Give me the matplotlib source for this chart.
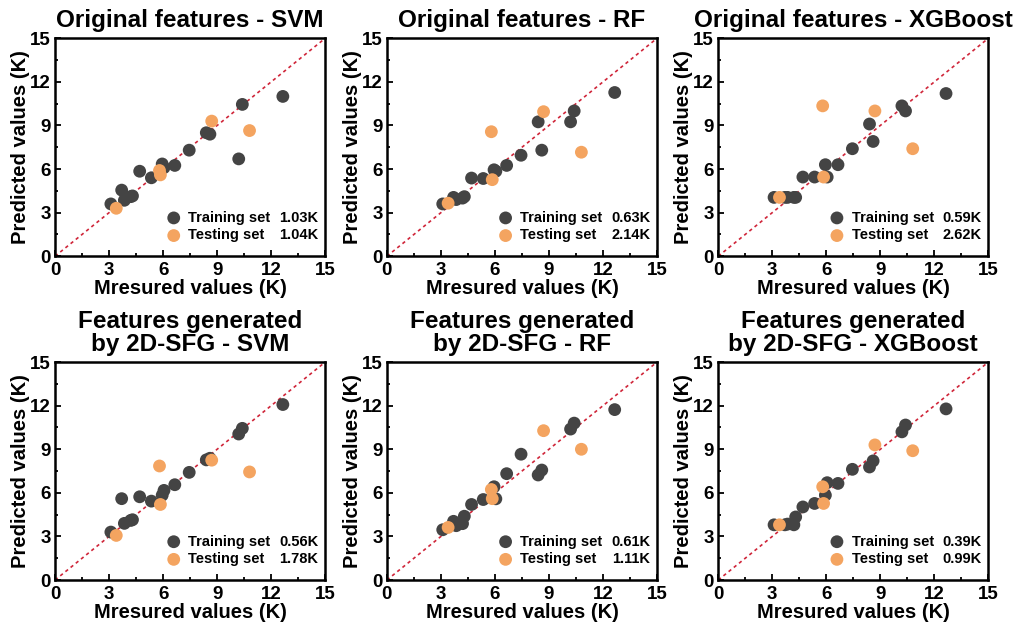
import matplotlib
matplotlib.use('Agg')
import matplotlib.pyplot as plt
from matplotlib.ticker import MultipleLocator

plt.rcParams['font.family'] = ['Liberation Sans', 'DejaVu Sans']
plt.rcParams['font.weight'] = 'bold'

# measured values (shared by all panels)
train_x = [3.1, 3.7, 3.85, 4.2, 4.3, 4.7, 5.35, 5.95, 6.05, 6.65, 7.45, 8.4, 8.6, 10.2, 10.4, 12.65]
test_x = [3.4, 5.8, 5.85, 8.7, 10.8]

# predicted values per panel
svm_orig_train = [3.6, 4.55, 3.85, 4.1, 4.15, 5.85, 5.4, 6.35, 6.1, 6.25, 7.3, 8.5, 8.4, 6.7, 10.45, 11.0]
svm_orig_test = [3.3, 5.9, 5.6, 9.3, 8.65]
rf_orig_train = [3.6, 4.05, 3.9, 4.0, 4.1, 5.38, 5.35, 5.95, 5.85, 6.25, 6.95, 9.25, 7.3, 9.25, 10.0, 11.27]
rf_orig_test = [3.65, 8.57, 5.27, 9.95, 7.16]
xgb_orig_train = [4.05, 4.05, 4.05, 4.05, 4.05, 5.45, 5.45, 6.3, 5.45, 6.3, 7.4, 9.1, 7.9, 10.35, 10.0, 11.2]
xgb_orig_test = [4.05, 10.35, 5.45, 10.0, 7.4]
svm_sfg_train = [3.3, 5.6, 3.9, 4.1, 4.15, 5.73, 5.43, 5.84, 6.17, 6.56, 7.41, 8.27, 8.38, 10.05, 10.44, 12.08]
svm_sfg_test = [3.07, 7.85, 5.2, 8.25, 7.44]
rf_sfg_train = [3.46, 4.04, 3.74, 3.88, 4.39, 5.2, 5.54, 6.42, 5.59, 7.32, 8.66, 7.23, 7.57, 10.39, 10.8, 11.73]
rf_sfg_test = [3.62, 6.23, 5.6, 10.28, 9.0]
xgb_sfg_train = [3.8, 3.8, 3.85, 3.8, 4.34, 5.03, 5.27, 5.84, 6.7, 6.65, 7.62, 7.78, 8.2, 10.2, 10.67, 11.78]
xgb_sfg_test = [3.8, 6.42, 5.27, 9.3, 8.9]

titles = ['Original features - SVM', 'Original features - RF', 'Original features - XGBoost',
          'Features generated\nby 2D-SFG - SVM', 'Features generated\nby 2D-SFG - RF',
          'Features generated\nby 2D-SFG - XGBoost']
train_err = ['1.03K', '0.63K', '0.59K', '0.56K', '0.61K', '0.39K']
test_err = ['1.04K', '2.14K', '2.62K', '1.78K', '1.11K', '0.99K']

trains = [svm_orig_train, rf_orig_train, xgb_orig_train, svm_sfg_train, rf_sfg_train, xgb_sfg_train]
tests = [svm_orig_test, rf_orig_test, xgb_orig_test, svm_sfg_test, rf_sfg_test, xgb_sfg_test]

dark = '#444444'
orange = '#F4A460'

fig = plt.figure(figsize=(10.29, 6.28), dpi=100)
lefts = [0.0535, 0.376, 0.698]
bottoms = [0.592, 0.0764]
w, h = 0.2625, 0.347

axes = []
legends = []
for i in range(6):
    ax = fig.add_axes([lefts[i % 3], bottoms[i // 3], w, h])
    ax.plot([0, 15], [0, 15], color='#d0263a', ls=(0, (2, 2)), lw=1.2, zorder=1)
    ax.scatter(train_x, trains[i], s=85, color=dark, edgecolors='none', zorder=2, label='Training set')
    ax.scatter(test_x, tests[i], s=85, color=orange, edgecolors='none', zorder=3, label='Testing set')
    ax.set_xlim(0, 15)
    ax.set_ylim(0, 15)
    ax.xaxis.set_major_locator(MultipleLocator(3))
    ax.yaxis.set_major_locator(MultipleLocator(3))
    ax.xaxis.set_minor_locator(MultipleLocator(1.5))
    ax.yaxis.set_minor_locator(MultipleLocator(1.5))
    ax.tick_params(which='both', direction='in', width=1.3, labelsize=13.5)
    ax.tick_params(axis='x', pad=4)
    ax.tick_params(axis='y', pad=3)
    ax.tick_params(which='major', length=4)
    ax.tick_params(which='minor', length=2.5)
    for sp in ax.spines.values():
        sp.set_linewidth(1.8)
    ax.set_xlabel('Mresured values (K)', fontsize=14.5, fontweight='bold', labelpad=0)
    ax.set_ylabel('Predicted values (K)', fontsize=14.5, fontweight='bold', labelpad=0)
    ax.set_title(titles[i], fontsize=17.5, fontweight='bold', pad=8, linespacing=1.0)
    leg = ax.legend(loc='lower left', bbox_to_anchor=(0.38, 0.03), frameon=False,
                    fontsize=10.5, handletextpad=0.4, labelspacing=0.25, borderpad=0,
                    handlelength=1.2)
    axes.append(ax)
    legends.append(leg)

# put the error values on the same rows as the legend entries
fig.canvas.draw()
for i in range(6):
    ax = axes[i]
    inv = ax.transAxes.inverted()
    for txt, val in zip(legends[i].get_texts(), [train_err[i], test_err[i]]):
        bb = txt.get_window_extent()
        yc = inv.transform((0, (bb.y0 + bb.y1) / 2))[1]
        ax.text(0.975, yc, val, transform=ax.transAxes, ha='right', va='center', fontsize=10.5)

fig.savefig('out.png', dpi=100)
